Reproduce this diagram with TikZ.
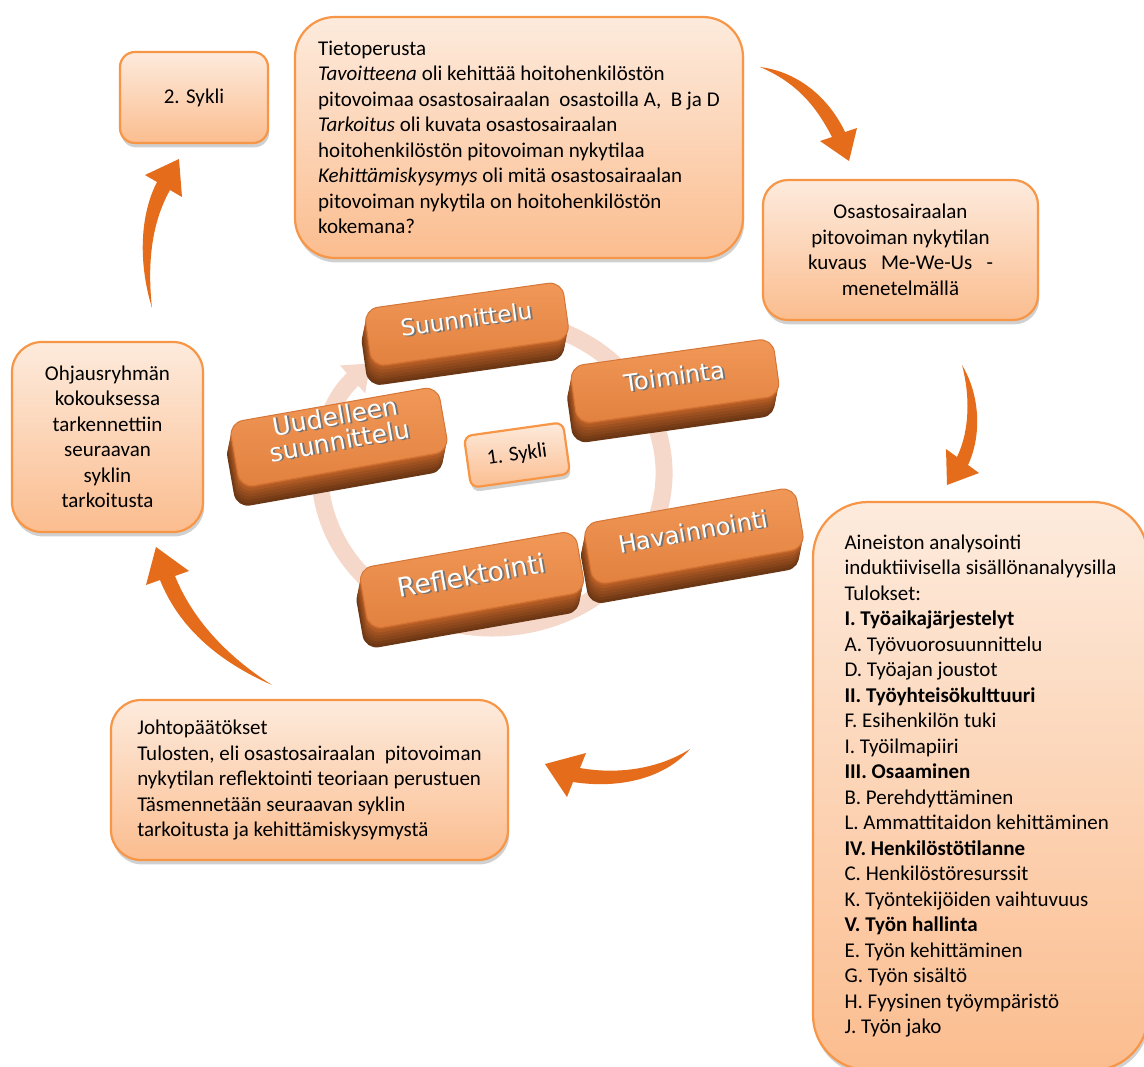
\documentclass[tikz,border=0pt]{standalone}
\usepackage{fontspec}
\setmainfont{Carlito}
\newfontfamily\keyfont{DejaVu Sans}
\usetikzlibrary{arrows.meta,shadows}

\newlength{\du}
\setlength{\du}{0.5pt}

\newcommand{\keylabel}[1]{\makebox[0pt][l]{\hspace{0.9pt}\raisebox{-0.6pt}{\textcolor{black!55}{#1}}}#1}

\tikzset{
  textbox/.style={draw=boxline, line width=1.1pt, top color=boxtop, bottom color=boxbottom,
    inner sep=0pt, font=\fontsize{10.5}{12.75}\selectfont,
    drop shadow={shadow xshift=0.6pt, shadow yshift=-2.2pt, opacity=0.3, fill=black!60}},
  keycap/.style={draw=keyedge, line width=0.5pt, top color=keylight, bottom color=keyface,
    rounded corners=14\du, inner sep=0pt, text=white, align=center, text depth=5pt,
    general shadow={fill=keydark, draw=none, shadow xshift=-2pt, shadow yshift=-10pt},
    general shadow={fill=keydark!85!keymid, draw=none, shadow xshift=-1.7pt, shadow yshift=-8.5pt},
    general shadow={fill=keydark!70!keymid, draw=none, shadow xshift=-1.4pt, shadow yshift=-7pt},
    general shadow={fill=keydark!55!keymid, draw=none, shadow xshift=-1.1pt, shadow yshift=-5.5pt},
    general shadow={fill=keydark!40!keymid, draw=none, shadow xshift=-0.8pt, shadow yshift=-4pt},
    general shadow={fill=keydark!20!keymid, draw=none, shadow xshift=-0.5pt, shadow yshift=-2.5pt},
    general shadow={fill=keymid, draw=none, shadow xshift=-0.2pt, shadow yshift=-1pt}},
  keysize/.style={font=\keyfont\fontsize{#1}{12.5}\selectfont},
  bigarrow/.style={fill=arrowfill, draw=none},
  ring/.style={draw=ringcolor, line width=8.5pt, -{Triangle[width=18pt,length=12pt]}}
}

\begin{document}
\begin{tikzpicture}
\pgftransformxscale{1.000000}
\pgftransformyscale{-1.000000}
\definecolor{boxline}{RGB}{247,150,70}
\definecolor{boxtop}{RGB}{253,235,221}
\definecolor{boxbottom}{RGB}{251,189,143}
\definecolor{arrowfill}{RGB}{228,108,26}
\definecolor{keylight}{RGB}{241,152,88}
\definecolor{keyface}{RGB}{226,129,63}
\definecolor{keyedge}{RGB}{214,118,54}
\definecolor{keymid}{RGB}{190,98,40}
\definecolor{keydark}{RGB}{108,55,20}
\definecolor{ringcolor}{RGB}{246,216,203}
\useasboundingbox (0\du,0\du) rectangle (1144\du,1066\du);
\fill[white] (0\du,0\du) rectangle (1144\du,1066\du);

% kierros
\draw[ring] (433.2\du,327.3\du) arc[start angle=250, end angle=585, x radius=172\du, y radius=155\du];

% vaiheet
\node[keycap, keysize=11.5, rotate=8, minimum width=200\du, minimum height=58\du] (suunn) at (467\du,324\du) {\keylabel{Suunnittelu}};
\node[keycap, keysize=12, rotate=8, minimum width=205\du, minimum height=58\du] (toim) at (675\du,381\du) {\keylabel{Toiminta}};
\node[keycap, keysize=12.5, rotate=10, minimum width=212\du, minimum height=66\du, text depth=9pt] (uudel) at (339\du,437\du) {\keylabel{Uudelleen}\\\keylabel{suunnittelu}};
\node[keycap, keysize=12, rotate=10, minimum width=215\du, minimum height=62\du] (havain) at (694\du,536\du) {\keylabel{Havainnointi}};
\node[keycap, keysize=13.2, rotate=10, minimum width=220\du, minimum height=62\du] (reflek) at (472\du,580\du) {\keylabel{Reflektointi}};
\node[textbox, rotate=8, rounded corners=8\du, minimum width=100\du, minimum height=52\du] (sykli1) at (517\du,455\du) {1. Sykli};

% laatikot
\node[textbox, rounded corners=15\du, minimum width=148\du, minimum height=91\du] (sykli2) at (194\du,97.5\du) {2. Sykli};
\node[textbox, rounded corners=40\du, minimum width=448\du, minimum height=241\du, align=left] (tieto) at (519\du,137.5\du) {Tietoperusta\\
\textit{Tavoitteena}\ oli kehittää hoitohenkilöstön\\
pitovoimaa osastosairaalan\ \ osastoilla A,\ \ B ja D\\
\textit{Tarkoitus} oli kuvata osastosairaalan\\
hoitohenkilöstön pitovoiman nykytilaa\\
\textit{Kehittämiskysymys} oli mitä osastosairaalan\\
pitovoiman nykytila on\ hoitohenkilöstön\\
kokemana?};
\node[textbox, rounded corners=25\du, minimum width=275\du, minimum height=140\du, align=center] (kuvaus) at (900.5\du,250\du) {Osastosairaalan\\
pitovoiman nykytilan\\
kuvaus\ \ \ Me-We-Us\ \ \ -\\
menetelmällä};
\node[textbox, rounded corners=55\du, minimum width=335\du, minimum height=568\du, align=left] (analyysi) at (980.5\du,786\du) {Aineiston analysointi\\
induktiivisella sisällönanalyysilla\\
Tulokset:\\
\textbf{I. Työaikajärjestelyt}\\
A. Työvuorosuunnittelu\\
D. Työajan joustot\\
\textbf{II. Työyhteisökulttuuri}\\
F. Esihenkilön tuki\\
I. Työilmapiiri\\
\textbf{III. Osaaminen}\\
B. Perehdyttäminen\\
L. Ammattitaidon kehittäminen\\
\textbf{IV. Henkilöstötilanne}\\
C. Henkilöstöresurssit\\
K. Työntekijöiden vaihtuvuus\\
\textbf{V. Työn hallinta}\\
E. Työn kehittäminen\\
G. Työn sisältö\\
H. Fyysinen\ työympäristö\\
J. Työn jako};
\node[textbox, rounded corners=30\du, minimum width=397\du, minimum height=160\du, align=left] (johto) at (309.5\du,780\du) {Johtopäätökset\\
Tulosten, eli osastosairaalan\ \ pitovoiman\\
nykytilan reflektointi teoriaan perustuen\\
Täsmennetään\ seuraavan\ syklin\\
tarkoitusta ja kehittämiskysymystä};
\node[textbox, rounded corners=30\du, minimum width=191\du, minimum height=190\du, align=center] (ohjaus) at (107.5\du,437\du) {Ohjausryhmän\\
kokouksessa\\
tarkennettiin\\
seuraavan\\
syklin\\
tarkoitusta};

% nuolet
\coordinate (tieto-kuvaus) at (760\du,67\du);
\coordinate (kuvaus-tip) at (849\du,161\du);
\fill[bigarrow] (tieto-kuvaus) .. controls (800\du,72\du) and (830\du,100\du) .. (845\du,132\du)
  -- (857\du,128\du) -- (kuvaus-tip) -- (820\du,141\du) -- (832\du,137\du)
  .. controls (815\du,104\du) and (795\du,82\du) .. (tieto-kuvaus) -- cycle;
\coordinate (kuvaus-analyysi) at (962\du,365\du);
\coordinate (analyysi-tip) at (947\du,485\du);
\fill[bigarrow] (kuvaus-analyysi) .. controls (980\du,395\du) and (982\du,435\du) .. (968\du,465\du)
  -- (979\du,473\du) -- (analyysi-tip) -- (946\du,449\du) -- (957\du,457\du)
  .. controls (970\du,430\du) and (970\du,395\du) .. (kuvaus-analyysi) -- cycle;
\coordinate (analyysi-johto) at (690\du,749\du);
\coordinate (johto-tip) at (545\du,764\du);
\fill[bigarrow] (analyysi-johto) .. controls (660\du,768\du) and (620\du,775\du) .. (580\du,768\du)
  -- (586\du,753\du) -- (johto-tip) -- (567\du,797\du) -- (573\du,782\du)
  .. controls (625\du,790\du) and (668\du,775\du) .. (analyysi-johto) -- cycle;
\coordinate (johto-ohjaus) at (272\du,685\du);
\coordinate (ohjaus-tip) at (156\du,547\du);
\fill[bigarrow] (johto-ohjaus) .. controls (215\du,660\du) and (178\du,625\du) .. (160\du,580\du)
  -- (146\du,585\du) -- (ohjaus-tip) -- (189\du,571\du) -- (175\du,576\du)
  .. controls (192\du,618\du) and (225\du,655\du) .. (johto-ohjaus) -- cycle;
\coordinate (ohjaus-sykli2) at (152\du,308\du);
\coordinate (sykli2-tip) at (179\du,159\du);
\fill[bigarrow] (ohjaus-sykli2) .. controls (138\du,262\du) and (140\du,215\du) .. (157\du,182\du)
  -- (145\du,175\du) -- (sykli2-tip) -- (182\du,197\du) -- (170\du,190\du)
  .. controls (152\du,222\du) and (147\du,262\du) .. (ohjaus-sykli2) -- cycle;
\end{tikzpicture}
\end{document}
